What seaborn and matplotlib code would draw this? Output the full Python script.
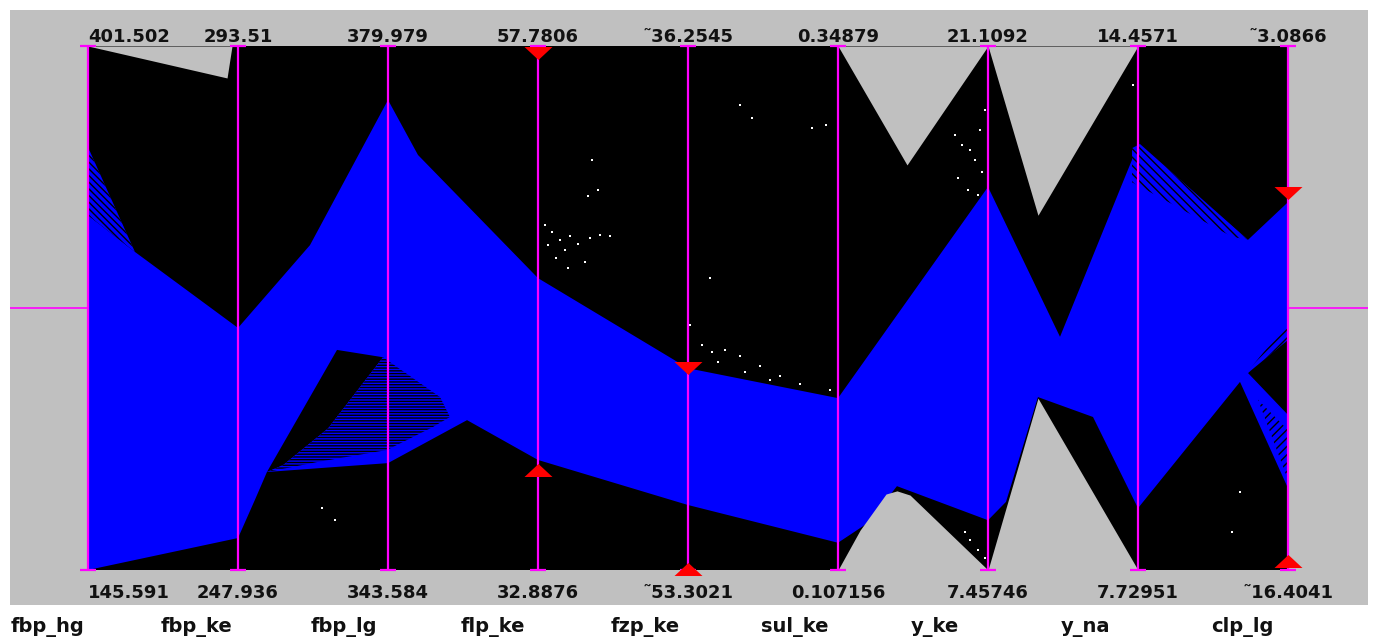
import numpy as np
import pandas as pd
import matplotlib
matplotlib.use("Agg")
import matplotlib.pyplot as plt
import seaborn as sns

# ---------------- data ----------------
names = ["fbp_hg", "fbp_ke", "fbp_lg", "flp_ke", "fzp_ke", "sul_ke", "y_ke", "y_na", "clp_lg"]
top_labels = ["401.502", "293.51", "379.979", "57.7806", "\u02dc36.2545", "0.34879",
              "21.1092", "14.4571", "\u02dc3.0866"]
bottom_labels = ["145.591", "247.936", "343.584", "32.8876", "\u02dc53.3021", "0.107156",
                 "7.45746", "7.72951", "\u02dc16.4041"]

# envelope of all records (position along axes, normalised value 0..1)
all_upper_x = [0, 0.927, 0.96, 1, 5, 5.46, 6, 6.333, 7, 8]
all_upper_y = [1, 0.939, 1, 1, 1, 0.773, 1, 0.677, 1, 1]
all_lower_x = [0, 5, 5.147, 5.32, 5.393, 5.48, 6, 6.333, 7, 8]
all_lower_y = [0, 0, 0.076, 0.145, 0.151, 0.143, 0, 0.328, 0, 0]

# envelope of the selected (brushed) records
sel_upper_x = [0, 0.313, 1, 1.48, 2, 2.2, 3, 4, 5, 6, 6.48, 7, 7.733, 8]
sel_upper_y = [0.677, 0.607, 0.462, 0.620, 0.897, 0.792, 0.557, 0.385, 0.328,
               0.731, 0.445, 0.811, 0.630, 0.702]
sel_lower_x = [0, 1, 1.113, 1.193, 2, 2.527, 3, 4, 5, 5.2, 5.393, 6, 6.12, 6.333,
               6.7, 7, 7.68, 8]
sel_lower_y = [0, 0.061, 0.134, 0.187, 0.204, 0.286, 0.210, 0.124, 0.052, 0.09,
               0.16, 0.095, 0.13, 0.33, 0.292, 0.118, 0.359, 0.156]

# gaps inside the selection envelope
gap1_x = [1.193, 1.66, 1.967, 1.6, 1.3]
gap1_y = [0.187, 0.420, 0.406, 0.27, 0.2]
gap2_x = [7.733, 7.88, 8, 8]
gap2_y = [0.376, 0.424, 0.443, 0.296]

# densely crossing line bundles
hatch_regions = [
    ([0, 0, 0.313], [0.807, 0.677, 0.607], "\\\\\\\\\\"),
    ([1.3, 1.6, 1.967, 2.347, 2.413, 2.3, 1.993, 1.527, 1.193],
     [0.2, 0.27, 0.406, 0.330, 0.292, 0.273, 0.229, 0.206, 0.187], "------"),
    ([7.713, 8, 8, 7.733], [0.372, 0.473, 0.439, 0.376], "////"),
    ([7.8, 8, 8], [0.325, 0.267, 0.172], "////"),
    ([6.96, 7.013, 7.733, 7.627, 6.96], [0.805, 0.813, 0.630, 0.636, 0.740], "\\\\\\\\"),
]

# isolated records
dots_x = [3.047, 3.093, 3.147, 3.067, 3.18, 3.12, 3.213, 3.267, 3.347, 3.413, 3.48, 3.313,
          3.2, 3.36, 3.4, 3.333,
          4.347, 4.427, 4.827, 4.92, 4.147, 4.013, 4.093, 4.16, 4.247, 4.347, 4.48, 4.613,
          4.747, 4.947, 4.38, 4.2, 4.547,
          5.78, 5.827, 5.88, 5.913, 5.96, 5.867, 5.8, 5.98, 5.947, 5.933,
          5.847, 5.88, 5.933, 5.98,
          6.967, 7.68, 7.627, 1.647, 1.56]
dots_y = [0.658, 0.645, 0.630, 0.620, 0.611, 0.595, 0.637, 0.622, 0.634, 0.639, 0.637, 0.588,
          0.576, 0.782, 0.725, 0.714,
          0.887, 0.863, 0.844, 0.849, 0.557, 0.468, 0.429, 0.416, 0.420, 0.408, 0.389, 0.370,
          0.355, 0.344, 0.378, 0.397, 0.363,
          0.830, 0.811, 0.802, 0.782, 0.760, 0.725, 0.748, 0.878, 0.840, 0.716,
          0.073, 0.057, 0.038, 0.023,
          0.926, 0.149, 0.073, 0.095, 0.118]

# brushing sliders
slider_down_x = [3, 4, 8]
slider_down_y = [0.987, 0.385, 0.719]
slider_up_x = [3, 4, 8]
slider_up_y = [0.191, 0.002, 0.017]

# ---------------- drawing ----------------
sns.set_theme(style="white")
plt.rcParams["font.family"] = ["DejaVu Sans"]
plt.rcParams["hatch.linewidth"] = 1.0

GRAY = "#c0c0c0"
MAG = "#ff00ff"
BLUE = "#0000ff"

fig = plt.figure(figsize=(13.75, 6.37), dpi=100)
fig.patch.set_facecolor("white")
ax = fig.add_axes([10 / 1375, 32 / 637, 1358 / 1375, 595 / 637])
ax.set_facecolor(GRAY)
ax.set_xlim(-0.52, 8.5333)
ax.set_ylim(-0.0668, 1.0687)
ax.set_xticks([])
ax.set_yticks([])
for s in ax.spines.values():
    s.set_visible(False)

n = len(names)
# whole-data envelope base
ax.fill([0, n - 1, n - 1, 0], [0, 0, 1, 1], color="black", lw=0, zorder=1)

# selection envelope
px = list(sel_upper_x) + list(sel_lower_x[::-1])
py = list(sel_upper_y) + list(sel_lower_y[::-1])
ax.fill(px, py, color=BLUE, lw=0, zorder=2)

for gx, gy in [(gap1_x, gap1_y), (gap2_x, gap2_y)]:
    ax.fill(gx, gy, color="black", lw=0, zorder=3)

for hx, hy, hp in hatch_regions:
    ax.fill(hx, hy, facecolor=BLUE, edgecolor="black", hatch=hp, lw=0, zorder=3)

# isolated points
dots = pd.DataFrame({"x": dots_x, "y": dots_y})
sns.scatterplot(data=dots, x="x", y="y", ax=ax, color="white", s=3, linewidth=0,
                marker="s", zorder=4, legend=False)

# carve out envelope of all data (outside shown as background)
ax.fill_between(all_upper_x, all_upper_y, 1.0, color=GRAY, lw=0, zorder=5)
ax.fill_between(all_lower_x, -0.001, all_lower_y, color=GRAY, lw=0, zorder=5)

# axes
xs = np.arange(n)
ax.vlines(xs, 0, 1, colors=MAG, lw=1.6, zorder=6)
ax.plot(xs, np.ones(n), ls="none", marker="_", ms=12, mew=1.6, color=MAG, zorder=6)
ax.plot(xs, np.zeros(n), ls="none", marker="_", ms=12, mew=1.6, color=MAG, zorder=6)
mid = pd.DataFrame({"x": [-0.52, 0, np.nan, n - 1, 8.5333], "y": [0.5, 0.5, np.nan, 0.5, 0.5]})
ax.plot(mid["x"], mid["y"], color=MAG, lw=1.2, zorder=6)

# sliders
down = [(-1, 0.465), (1, 0.465), (0, -0.465)]
up = [(-1, -0.465), (1, -0.465), (0, 0.465)]
ax.scatter(slider_down_x, slider_down_y, marker=down, s=406, color="red", linewidths=0,
           zorder=7, clip_on=False)
ax.scatter(slider_up_x, slider_up_y, marker=up, s=406, color="red", linewidths=0,
           zorder=7, clip_on=False)

# labels
for i in range(n):
    ha = "left" if i == 0 else "center"
    ax.text(i, 1.0076, top_labels[i], ha=ha, va="baseline", fontsize=13,
            fontweight="bold", color="#111111", zorder=8)
    ax.text(i, -0.0534, bottom_labels[i], ha=ha, va="baseline", fontsize=13,
            fontweight="bold", color="#111111", zorder=8)
    ax.text(i - 0.513, -0.1183, names[i], ha="left", va="baseline", fontsize=14,
            fontweight="bold", color="#111111", zorder=8, clip_on=False)

fig.savefig("out.png", dpi=100, facecolor="white")
